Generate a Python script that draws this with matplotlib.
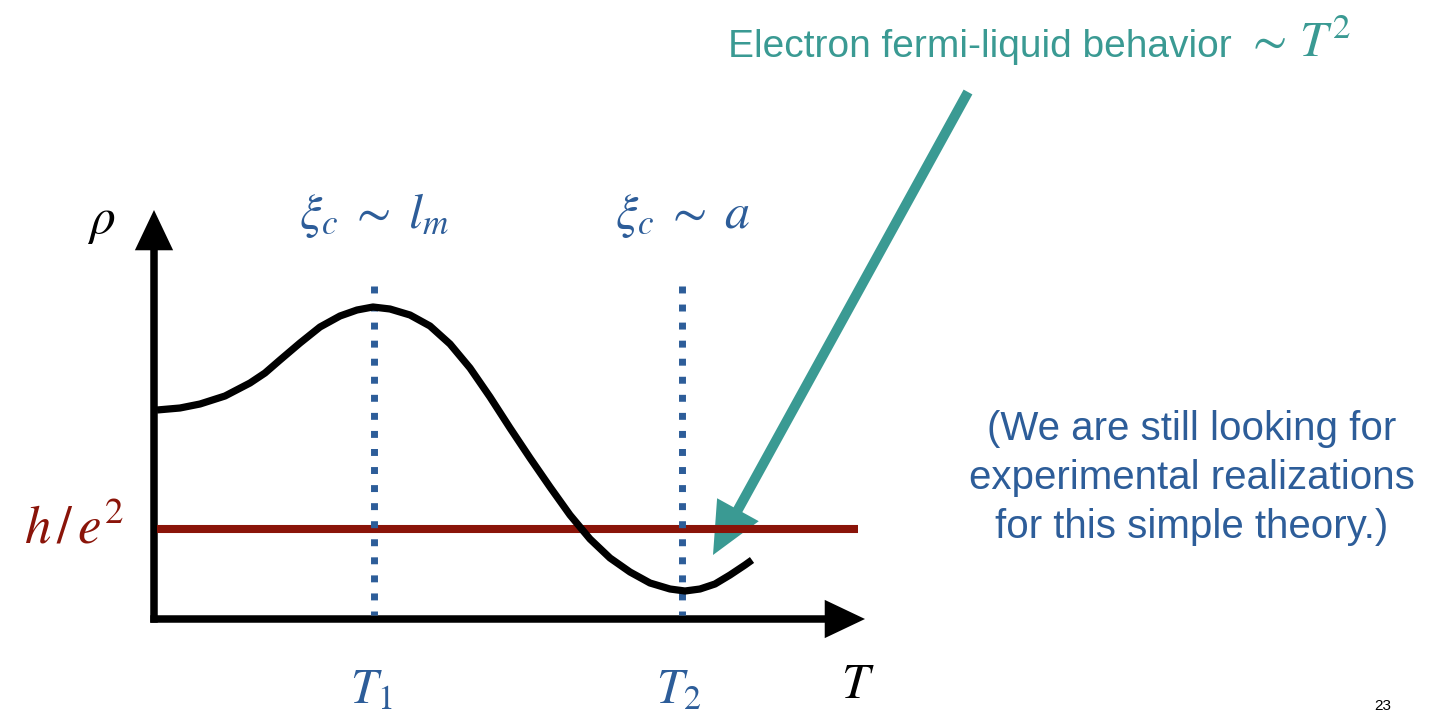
import matplotlib
matplotlib.use("Agg")
import matplotlib.pyplot as plt
from matplotlib.patches import FancyArrowPatch

plt.rcParams['font.family'] = ['Liberation Sans', 'DejaVu Sans']
plt.rcParams['mathtext.fontset'] = 'stix'

# schematic resistivity curve rho(T) (1 unit = 100 px)
temps = [0.03, 0.26, 0.46, 0.71, 0.96, 1.11, 1.26, 1.46, 1.66, 1.86, 2.03, 2.19,
         2.36, 2.56, 2.76, 2.96, 3.16, 3.36, 3.56, 3.76, 3.96, 4.16, 4.36, 4.56,
         4.76, 4.96, 5.16, 5.31, 5.46, 5.61, 5.76, 5.91, 5.98]
rho = [2.09, 2.11, 2.15, 2.23, 2.36, 2.46, 2.59, 2.76, 2.92, 3.03, 3.09, 3.12,
       3.10, 3.04, 2.93, 2.75, 2.51, 2.22, 1.91, 1.61, 1.32, 1.04, 0.80, 0.61,
       0.47, 0.36, 0.30, 0.28, 0.30, 0.35, 0.44, 0.54, 0.59]

h_e2 = 0.90             # quantum of resistance level
h_e2_span = [0.03, 7.04]
T_marks = [2.20, 5.28]  # T1, T2
T_mark_labels = [r'$T_1$', r'$T_2$']
xi_labels = [r'$\xi_c\;\sim\;l_m$', r'$\xi_c\;\sim\;a$']
dot_span = [3.33, 0.04]
T_axis_end = 7.11
rho_axis_end = 4.09
fl_arrow_start = (8.14, 5.27)
fl_arrow_tip = (5.59, 0.64)

para = "(We are still looking for\nexperimental realizations\nfor this simple theory.)"
header = "Electron fermi-liquid behavior"
header_math = r"$\sim\,T^2$"

black = '#000000'
blue = '#2d5d99'
red = '#8a1409'
teal = '#3a9a93'

fig = plt.figure(figsize=(14.39, 7.17), dpi=100)
ax = fig.add_axes([0, 0, 1, 1])
ax.set_xlim(-1.54, 12.85)
ax.set_ylim(-0.98, 6.19)
ax.axis('off')

# axes of the sketch
for a, b in [((-0.037, 0), (T_axis_end, 0)), ((0, -0.037), (0, rho_axis_end))]:
    ax.add_patch(FancyArrowPatch(a, b, arrowstyle='-|>,head_length=20,head_width=9.5',
                                 mutation_scale=1, lw=5.4, color=black,
                                 shrinkA=0, shrinkB=0, joinstyle='miter',
                                 capstyle='butt'))

# h/e^2 line
ax.plot(h_e2_span, [h_e2, h_e2], color=red, lw=5.8, solid_capstyle='butt')

# dotted markers at T1, T2
for t in T_marks:
    ax.plot([t, t], dot_span, color=blue, lw=5, linestyle=(0, (1, 1.6)),
            dash_capstyle='butt')

# resistivity curve
ax.plot(temps, rho, color=black, lw=5.2, solid_capstyle='butt', solid_joinstyle='round')

# labels
ax.text(-0.53, 3.98, r'$\rho$', fontsize=37, color=black, ha='center', va='center')
ax.text(-0.80, h_e2, r'$h\,/\,e^2$', fontsize=38, color=red, ha='center', va='center')
ax.text(7.04, -0.66, r'$T$', fontsize=36, color=black, ha='center', va='center')
for t, lab, xi in zip(T_marks, T_mark_labels, xi_labels):
    ax.text(t - 0.03, -0.72, lab, fontsize=35, color=blue, ha='center', va='center')
    ax.text(t, 4.03, xi, fontsize=36, color=blue, ha='center', va='center')

# fermi-liquid arrow
ax.add_patch(FancyArrowPatch(fl_arrow_start, fl_arrow_tip,
                             arrowstyle='-|>,head_length=25,head_width=11.5',
                             mutation_scale=1, lw=7.2, color=teal,
                             shrinkA=0, shrinkB=0, joinstyle='miter',
                             capstyle='butt'))

fig.text(0.506, 0.9205, header, fontsize=28, color=teal, ha='left', va='baseline')
fig.text(0.865, 0.9205, header_math, fontsize=36, color=teal, ha='left', va='baseline')
fig.text(0.828, 0.333, para, fontsize=29, color=blue, ha='center', va='center',
         linespacing=1.36)
fig.text(0.961, 0.015, '23', fontsize=11, color=black, ha='center', va='center')

fig.savefig('out.png', dpi=100)
